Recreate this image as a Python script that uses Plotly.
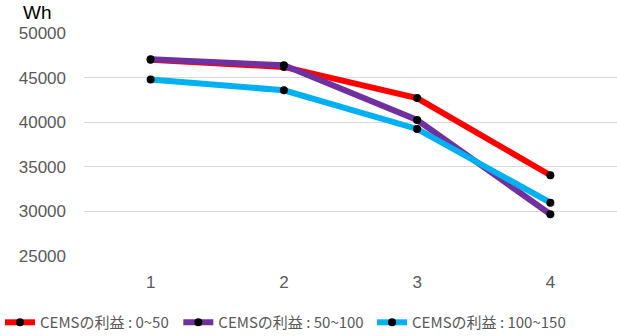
import plotly.graph_objects as go

# Categories on the x axis
categories = ["1", "2", "3", "4"]

# Energy (Wh) for each CEMS profit band
profit_0_50 = [47000, 46200, 42700, 34050]
profit_50_100 = [47050, 46380, 40250, 29680]
profit_100_150 = [44780, 43580, 39240, 30980]

series_names = ["CEMSの利益 : 0~50", "CEMSの利益 : 50~100", "CEMSの利益 : 100~150"]
series_values = [profit_0_50, profit_50_100, profit_100_150]
series_colors = ["#FF0000", "#7030A0", "#00B0F0"]

y_ticks = [25000, 30000, 35000, 40000, 45000, 50000]

FONT = "Liberation Sans, Noto Sans CJK JP, Arial, sans-serif"
LEGEND_FONT = "Noto Sans CJK JP, Liberation Sans, sans-serif"

# one single-entry legend per series, laid out in a row under the axis
legend_ids = ["legend", "legend2", "legend3"]
legend_x = [0.0, 0.289, 0.603]

fig = go.Figure()
for name, vals, color, lid in zip(series_names, series_values, series_colors, legend_ids):
    fig.add_trace(go.Scatter(
        x=categories, y=vals, name=name, mode="lines+markers",
        line=dict(color=color, width=6),
        marker=dict(color="black", size=8),
        legend=lid,
    ))

legend_style = dict(
    orientation="h", xref="container", yref="container",
    xanchor="left", y=0.04, yanchor="middle",
    font=dict(size=15, color="#595959", family=LEGEND_FONT),
    itemwidth=30, bgcolor="rgba(0,0,0,0)",
)

fig.update_layout(
    width=617, height=336,
    margin=dict(l=84, r=0, t=33, b=80, autoexpand=False),
    paper_bgcolor="white", plot_bgcolor="white",
    font=dict(family=FONT, size=16, color="#595959"),
    showlegend=True,
    legend=dict(legend_style, x=legend_x[0]),
    legend2=dict(legend_style, x=legend_x[1]),
    legend3=dict(legend_style, x=legend_x[2]),
    annotations=[dict(
        text="Wh", xref="paper", yref="paper", x=-0.118, y=1.0897,
        xanchor="left", yanchor="middle", showarrow=False,
        font=dict(size=19, color="black", family=FONT),
    )],
)
fig.update_xaxes(
    type="category", range=[-0.5, 3.5], showgrid=False, zeroline=False,
    showline=False, ticks="", ticklabelstandoff=14,
    tickfont=dict(size=17, color="#595959"),
)
fig.update_yaxes(
    range=[25000, 50000], tickvals=y_ticks, tickformat="d", showgrid=True,
    gridcolor="#D9D9D9", gridwidth=1, zeroline=False, showline=False,
    ticks="", ticklabelstandoff=17,
    tickfont=dict(size=17, color="#595959"),
)

fig.write_html("out.html")
